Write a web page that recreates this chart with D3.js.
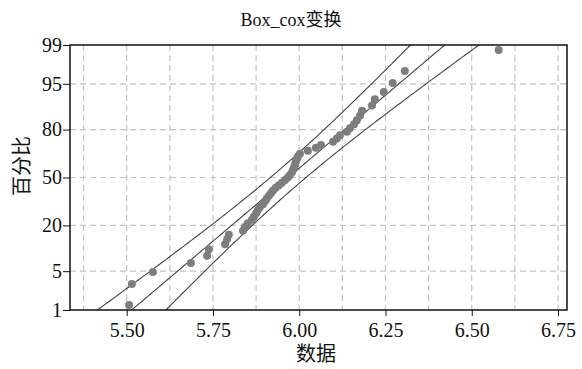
<!DOCTYPE html>
<html>
<head>
<meta charset="utf-8">
<script src="https://cdn.jsdelivr.net/npm/d3@7"></script>
<style>
  body { margin: 0; background: #fff; }
  text { font-family: "Liberation Serif", "Times New Roman", "DejaVu Serif", "Noto Sans CJK SC", serif; fill: #111; }
</style>
</head>
<body>
<div id="chart"></div>
<script>
// sorted observations (Box-Cox transformed)
const values = [
  5.507, 5.515, 5.576, 5.686, 5.733, 5.738, 5.785, 5.791, 5.796, 5.837,
  5.843, 5.851, 5.863, 5.869, 5.875, 5.880, 5.886, 5.895, 5.901, 5.906,
  5.912, 5.918, 5.924, 5.932, 5.941, 5.950, 5.959, 5.967, 5.973, 5.979,
  5.982, 5.985, 5.988, 5.990, 5.993, 5.996, 6.002, 6.025, 6.048, 6.063,
  6.098, 6.109, 6.118, 6.138, 6.147, 6.159, 6.167, 6.176, 6.182, 6.211,
  6.219, 6.245, 6.271, 6.306, 6.578
];
const xTicks = [5.50, 5.75, 6.00, 6.25, 6.50, 6.75];
const xGrid = [5.375, 5.5, 5.625, 5.75, 5.875, 6.0, 6.125, 6.25, 6.375, 6.5, 6.625, 6.75];
const yTicks = [1, 5, 20, 50, 80, 95, 99];
const yGrid = [5, 20, 50, 80, 95];
// fitted normal parameters
const mu = 5.968;
const sigma = 0.195;

const W = 582, H = 369;
const mLeft = 70, mRight = 567, mTop = 45, mBottom = 310;
const serif = '"Liberation Serif", "Times New Roman", "DejaVu Serif", serif';

// inverse normal cdf (Acklam)
function qnorm(p) {
  const a = [-39.69683028665376, 220.9460984245205, -275.9285104469687, 138.3577518672690, -30.66479806614716, 2.506628277459239];
  const b = [-54.47609879822406, 161.5858368580409, -155.6989798598866, 66.80131188771720, -13.28068155288572];
  const c = [-0.007784894002430293, -0.3223964580411365, -2.400758277161838, -2.549732539343734, 4.374664141464968, 2.938163982698783];
  const d = [0.007784695709041462, 0.3224671290700398, 2.445134137142996, 3.754408661907416];
  const pl = 0.02425;
  let q, r;
  if (p < pl) {
    q = Math.sqrt(-2 * Math.log(p));
    return (((((c[0]*q+c[1])*q+c[2])*q+c[3])*q+c[4])*q+c[5]) / ((((d[0]*q+d[1])*q+d[2])*q+d[3])*q+1);
  } else if (p <= 1 - pl) {
    q = p - 0.5; r = q * q;
    return (((((a[0]*r+a[1])*r+a[2])*r+a[3])*r+a[4])*r+a[5])*q / (((((b[0]*r+b[1])*r+b[2])*r+b[3])*r+b[4])*r+1);
  } else {
    q = Math.sqrt(-2 * Math.log(1 - p));
    return -(((((c[0]*q+c[1])*q+c[2])*q+c[3])*q+c[4])*q+c[5]) / ((((d[0]*q+d[1])*q+d[2])*q+d[3])*q+1);
  }
}

const n = values.length;
const zMax = qnorm(0.99);

const x = d3.scaleLinear().domain([5.5, 6.75]).range([126.7, 558]);
const y = d3.scaleLinear().domain([-zMax, zMax]).range([mBottom, mTop]);

const svg = d3.select('#chart').append('svg')
  .attr('width', W).attr('height', H);

svg.append('defs').append('clipPath').attr('id', 'plot')
  .append('rect').attr('x', mLeft).attr('y', mTop)
  .attr('width', mRight - mLeft).attr('height', mBottom - mTop);

// grid
svg.append('g').selectAll('line').data(xGrid).join('line')
  .attr('x1', d => x(d)).attr('x2', d => x(d))
  .attr('y1', mTop).attr('y2', mBottom)
  .attr('stroke', '#c4c4c4').attr('stroke-width', 1.2)
  .attr('stroke-dasharray', '6,4');
svg.append('g').selectAll('line').data(yGrid).join('line')
  .attr('x1', mLeft).attr('x2', mRight)
  .attr('y1', d => y(qnorm(d / 100))).attr('y2', d => y(qnorm(d / 100)))
  .attr('stroke', '#c4c4c4').attr('stroke-width', 1.2)
  .attr('stroke-dasharray', '6,4');

// fit line and confidence bands
const zs = d3.range(-2.6, 2.61, 0.05);
const se = z => 1.96 * sigma * Math.sqrt(1 / n + z * z / (2 * n));
const lineGen = d3.line().x(d => x(d[0])).y(d => y(d[1]));
const curves = [
  zs.map(z => [mu + z * sigma, z]),
  zs.map(z => [mu + z * sigma - se(z), z]),
  zs.map(z => [mu + z * sigma + se(z), z])
];
svg.append('g').attr('clip-path', 'url(#plot)')
  .selectAll('path').data(curves).join('path')
  .attr('d', lineGen)
  .attr('fill', 'none')
  .attr('stroke', '#444')
  .attr('stroke-width', 1.1);

// points, plotting position (i-0.3)/(n+0.4)
svg.append('g').selectAll('circle').data(values).join('circle')
  .attr('cx', d => x(d))
  .attr('cy', (d, i) => y(qnorm((i + 1 - 0.3) / (n + 0.4))))
  .attr('r', 4)
  .attr('fill', '#7d7d7d');

// frame
svg.append('rect')
  .attr('x', mLeft).attr('y', mTop)
  .attr('width', mRight - mLeft).attr('height', mBottom - mTop)
  .attr('fill', 'none').attr('stroke', '#111').attr('stroke-width', 1.5);

// x axis
const xAxis = svg.append('g').attr('transform', `translate(0,${mBottom})`)
  .call(d3.axisBottom(x).tickValues(xTicks).tickFormat(d3.format('.2f')).tickSize(6).tickSizeOuter(0));
xAxis.select('.domain').remove();
xAxis.selectAll('line').attr('stroke', '#111');
xAxis.selectAll('text').attr('font-size', 20).attr('dy', '0.9em')
  .style('font-family', serif).style('fill', '#111');

// y axis
const yAxis = svg.append('g').attr('transform', `translate(${mLeft},0)`)
  .call(d3.axisLeft(y).tickValues(yTicks.map(p => qnorm(p / 100)))
    .tickFormat((d, i) => yTicks[i]).tickSize(7).tickSizeOuter(0));
yAxis.select('.domain').remove();
yAxis.selectAll('line').attr('stroke', '#111');
yAxis.selectAll('text').attr('font-size', 20).attr('x', -8)
  .style('font-family', serif).style('fill', '#111');

// titles
svg.append('text').attr('x', 291).attr('y', 26)
  .attr('text-anchor', 'middle').attr('font-size', 18)
  .text('Box_cox变换');
svg.append('text').attr('x', 316).attr('y', 361)
  .attr('text-anchor', 'middle').attr('font-size', 20)
  .text('数据');
svg.append('text')
  .attr('transform', 'translate(29,166) rotate(-90)')
  .attr('text-anchor', 'middle').attr('font-size', 20)
  .text('百分比');
</script>
</body>
</html>
